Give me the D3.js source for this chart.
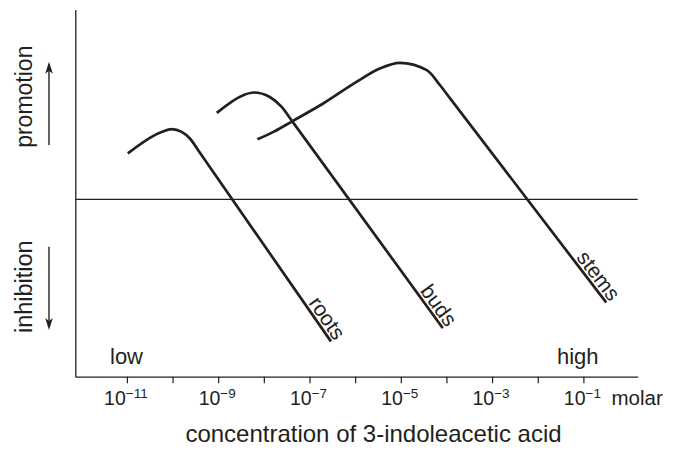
<!DOCTYPE html>
<html>
<head>
<meta charset="utf-8">
<script src="https://cdn.jsdelivr.net/npm/d3@7"></script>
<style>
  body { margin: 0; background: #fff; }
  svg text { font-family: "Liberation Sans", Arial, Helvetica, sans-serif; fill: #231f20; }
</style>
</head>
<body>
<div id="chart"></div>
<script>
// log10 of molar concentration, response (0 = no effect)
const rootsData = [
  [-10.98, 25.9], [-10.24, 38.0], [-10.02, 39.6], [-9.80, 38.0],
  [-9.62, 34.3], [-9.40, 26.2], [-6.53, -80.1]
];
const budsData = [
  [-9.03, 48.7], [-8.45, 58.7], [-8.22, 60.2], [-7.87, 57.7],
  [-7.61, 52.1], [-7.38, 44.1], [-4.08, -72.6]
];
const stemsData = [
  [-8.14, 33.8], [-7.79, 38.0], [-7.37, 44.1], [-6.70, 54.0],
  [-5.97, 66.2], [-5.46, 73.7], [-5.02, 76.9], [-4.43, 72.8],
  [-4.14, 64.3], [-3.92, 56.9], [-0.50, -58.2]
];
const seriesNames = ["roots", "buds", "stems"];
const tickExponents = [-11, -10, -9, -8, -7, -6, -5, -4, -3, -2, -1];
const labelExponents = [-11, -9, -7, -5, -3, -1];

const ink = "#231f20";
const width = 674, height = 450;

const svg = d3
  .select("#chart")
  .append("svg")
  .attr("width", width)
  .attr("height", height);

const x = d3.scaleLinear().domain([-12.13, 0.19]).range([75.3, 637.7]);
const y = d3.scaleLinear().domain([-100, 107]).range([376.7, 9.5]);

// X axis
const xAxis = svg
  .append("g")
  .attr("transform", `translate(0,${y(-100)})`)
  .call(
    d3.axisBottom(x).tickValues(tickExponents).tickSize(6.5).tickSizeOuter(0).tickFormat("")
  );
xAxis.select(".domain").attr("stroke", ink).attr("stroke-width", 1.3);
xAxis.selectAll(".tick line").attr("stroke", ink).attr("stroke-width", 1.2);

// tick labels: 10 with superscript exponent
const labels = svg
  .append("g")
  .selectAll("text")
  .data(labelExponents)
  .join("text")
  .attr("x", (d) => x(d) - 1)
  .attr("y", 405)
  .attr("text-anchor", "middle")
  .style("font-size", "19.5px");
labels.append("tspan").text("10");
labels
  .append("tspan")
  .attr("dy", -7)
  .style("font-size", "13.5px")
  .text((d) => "\u2212" + Math.abs(d));

svg.append("text").attr("x", 611.5).attr("y", 405).style("font-size", "20.5px").text("molar");

// Y axis (no ticks)
const yAxis = svg
  .append("g")
  .attr("transform", `translate(${x(-12.13)},0)`)
  .call(d3.axisLeft(y).tickValues([]).tickSizeOuter(0));
yAxis.select(".domain").attr("stroke", ink).attr("stroke-width", 1.3);

// zero line
svg
  .append("line")
  .attr("x1", x(-12.13))
  .attr("x2", x(0.19))
  .attr("y1", y(0))
  .attr("y2", y(0))
  .attr("stroke", ink)
  .attr("stroke-width", 1.2);

// curves
const line = d3
  .line()
  .x((d) => x(d[0]))
  .y((d) => y(d[1]))
  .curve(d3.curveMonotoneX);

const allSeries = [rootsData, budsData, stemsData];

svg
  .selectAll(".curve")
  .data(allSeries)
  .join("path")
  .attr("class", "curve")
  .attr("d", line)
  .attr("fill", "none")
  .attr("stroke", ink)
  .attr("stroke-width", 2.7);

// labels along the end of each curve
allSeries.forEach((s, i) => {
  const p1 = s[s.length - 2], p2 = s[s.length - 1];
  const x1 = x(p1[0]), y1 = y(p1[1]), x2 = x(p2[0]), y2 = y(p2[1]);
  const ang = (Math.atan2(y2 - y1, x2 - x1) * 180) / Math.PI;
  svg
    .append("text")
    .attr("transform", `translate(${x2},${y2}) rotate(${ang})`)
    .attr("x", 2)
    .attr("y", -3)
    .attr("text-anchor", "end")
    .style("font-size", "21px")
    .text(seriesNames[i]);
});

// low / high
svg.append("text").attr("x", 110).attr("y", 364).style("font-size", "22px").text("low");
svg.append("text").attr("x", 557).attr("y", 364).style("font-size", "22px").text("high");

// axis title
svg
  .append("text")
  .attr("x", 373.5)
  .attr("y", 441.5)
  .attr("text-anchor", "middle")
  .style("font-size", "24px")
  .text("concentration of 3-indoleacetic acid");

// y side labels and arrows
svg
  .append("text")
  .attr("transform", "translate(31.5,96.7) rotate(-90)")
  .attr("text-anchor", "middle")
  .style("font-size", "23px")
  .text("promotion");
svg
  .append("text")
  .attr("transform", "translate(31.5,286.7) rotate(-90)")
  .attr("text-anchor", "middle")
  .style("font-size", "23.5px")
  .text("inhibition");

function arrow(xp, yFrom, yTo) {
  const dir = yTo < yFrom ? -1 : 1;
  svg
    .append("line")
    .attr("x1", xp)
    .attr("x2", xp)
    .attr("y1", yFrom)
    .attr("y2", yTo - dir * 8)
    .attr("stroke", ink)
    .attr("stroke-width", 1.4);
  svg
    .append("path")
    .attr("d", `M${xp},${yTo} L${xp - 3.8},${yTo - dir * 12} L${xp},${yTo - dir * 9} L${xp + 3.8},${yTo - dir * 12} Z`)
    .attr("fill", ink);
}
arrow(49, 145, 61.7);
arrow(49, 246.7, 330);
</script>
</body>
</html>
